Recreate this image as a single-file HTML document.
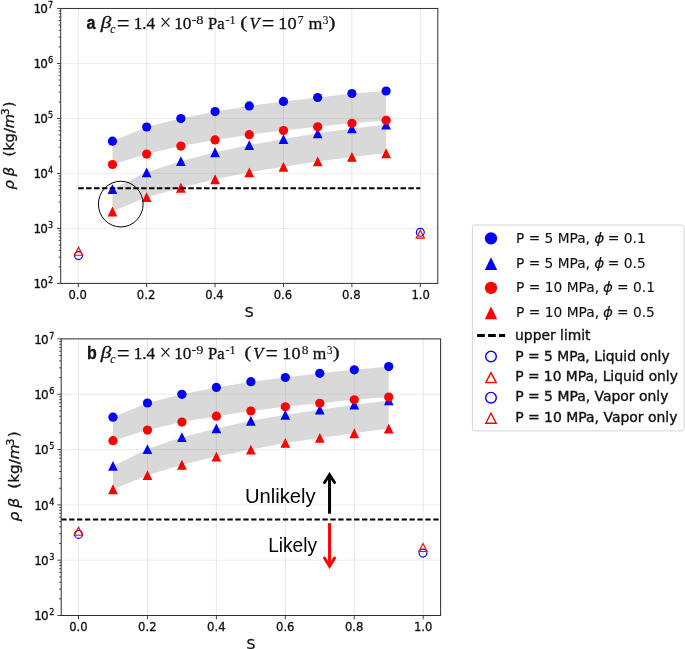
<!DOCTYPE html>
<html lang="en"><head><meta charset="utf-8"><title>Figure: rho beta vs S</title>
<style>html,body{margin:0;padding:0;background:#fff;overflow:hidden}svg{display:block;will-change:transform;mix-blend-mode:multiply}text{white-space:pre}</style>
</head><body>
<svg width="685" height="649" viewBox="0 0 685 649">
<rect width="685" height="649" fill="#fff"/>
<path d="M78.25 8.45V283.4M146.66 8.45V283.4M215.07 8.45V283.4M283.48 8.45V283.4M351.89 8.45V283.4M420.3 8.45V283.4" stroke="#dfdfdf" stroke-width="0.75" fill="none"/>
<path d="M60.7 228.41H437.8M60.7 173.42H437.8M60.7 118.43H437.8M60.7 63.44H437.8" stroke="#e7e7e7" stroke-width="0.75" fill="none"/>
<path d="M112.46 141.2L146.66 127L180.87 118.6L215.07 111.6L249.28 105.9L283.48 101.4L317.69 97.5L351.89 93.5L386.1 91L386.1 120.3L351.89 123.3L317.69 126.8L283.48 130.5L249.28 134.7L215.07 139.9L180.87 146.1L146.66 154.1L112.46 164.5ZM112.46 189.05L146.66 172.35L180.87 161.15L215.07 152.25L249.28 145.05L283.48 139.05L317.69 133.35L351.89 128.45L386.1 124.65L386.1 153.25L351.89 156.95L317.69 161.45L283.48 166.85L249.28 172.35L215.07 179.25L180.87 187.75L146.66 197.15L112.46 211.5Z" fill="#808080" fill-opacity="0.3"/>
<g fill="#0000ff"><circle cx="112.46" cy="141.2" r="4.62"/><circle cx="146.66" cy="127" r="4.62"/><circle cx="180.87" cy="118.6" r="4.62"/><circle cx="215.07" cy="111.6" r="4.62"/><circle cx="249.28" cy="105.9" r="4.62"/><circle cx="283.48" cy="101.4" r="4.62"/><circle cx="317.69" cy="97.5" r="4.62"/><circle cx="351.89" cy="93.5" r="4.62"/><circle cx="386.1" cy="91" r="4.62"/></g>
<path fill="#0000ff" d="M112.46 184.15L107.61 193.95L117.31 193.95ZM146.66 167.45L141.81 177.25L151.51 177.25ZM180.87 156.25L176.02 166.05L185.72 166.05ZM215.07 147.35L210.22 157.15L219.92 157.15ZM249.28 140.15L244.43 149.95L254.12 149.95ZM283.48 134.15L278.63 143.95L288.33 143.95ZM317.69 128.45L312.83 138.25L322.54 138.25ZM351.89 123.55L347.04 133.35L356.74 133.35ZM386.1 119.75L381.25 129.55L390.95 129.55Z"/>
<g fill="#ff0000"><circle cx="112.46" cy="164.5" r="4.62"/><circle cx="146.66" cy="154.1" r="4.62"/><circle cx="180.87" cy="146.1" r="4.62"/><circle cx="215.07" cy="139.9" r="4.62"/><circle cx="249.28" cy="134.7" r="4.62"/><circle cx="283.48" cy="130.5" r="4.62"/><circle cx="317.69" cy="126.8" r="4.62"/><circle cx="351.89" cy="123.3" r="4.62"/><circle cx="386.1" cy="120.3" r="4.62"/></g>
<path fill="#ff0000" d="M112.46 206.6L107.61 216.4L117.31 216.4ZM146.66 192.25L141.81 202.05L151.51 202.05ZM180.87 182.85L176.02 192.65L185.72 192.65ZM215.07 174.35L210.22 184.15L219.92 184.15ZM249.28 167.45L244.43 177.25L254.12 177.25ZM283.48 161.95L278.63 171.75L288.33 171.75ZM317.69 156.55L312.83 166.35L322.54 166.35ZM351.89 152.05L347.04 161.85L356.74 161.85ZM386.1 148.35L381.25 158.15L390.95 158.15Z"/>
<path d="M78.25 188.14H420.3" stroke="#000" stroke-width="2.0" stroke-dasharray="5.5 2.36" fill="none"/>
<circle cx="78.5" cy="255.6" r="3.95" fill="none" stroke="#0000ff" stroke-width="1.15"/>
<path d="M78.5 247.35L74.4 255.25L82.6 255.25Z" fill="none" stroke="#ff0000" stroke-width="1.15" stroke-linejoin="miter"/>
<circle cx="420.3" cy="232.3" r="3.95" fill="none" stroke="#0000ff" stroke-width="1.15"/>
<path d="M420.3 230.25L416.2 238.15L424.4 238.15Z" fill="none" stroke="#ff0000" stroke-width="1.15" stroke-linejoin="miter"/>
<path d="M56.9 283.4H60.7M56.9 228.41H60.7M56.9 173.42H60.7M56.9 118.43H60.7M56.9 63.44H60.7M56.9 8.45H60.7M78.25 283.4V287.2M146.66 283.4V287.2M215.07 283.4V287.2M283.48 283.4V287.2M351.89 283.4V287.2M420.3 283.4V287.2" stroke="#2e2e2e" stroke-width="0.9" fill="none"/>
<path d="M58.65 266.85H60.7M58.65 257.16H60.7M58.65 250.29H60.7M58.65 244.96H60.7M58.65 240.61H60.7M58.65 236.93H60.7M58.65 233.74H60.7M58.65 230.93H60.7M58.65 211.86H60.7M58.65 202.17H60.7M58.65 195.3H60.7M58.65 189.97H60.7M58.65 185.62H60.7M58.65 181.94H60.7M58.65 178.75H60.7M58.65 175.94H60.7M58.65 156.87H60.7M58.65 147.18H60.7M58.65 140.31H60.7M58.65 134.98H60.7M58.65 130.63H60.7M58.65 126.95H60.7M58.65 123.76H60.7M58.65 120.95H60.7M58.65 101.88H60.7M58.65 92.19H60.7M58.65 85.32H60.7M58.65 79.99H60.7M58.65 75.64H60.7M58.65 71.96H60.7M58.65 68.77H60.7M58.65 65.96H60.7M58.65 46.89H60.7M58.65 37.2H60.7M58.65 30.33H60.7M58.65 25H60.7M58.65 20.65H60.7M58.65 16.97H60.7M58.65 13.78H60.7M58.65 10.97H60.7" stroke="#1c1c1c" stroke-width="0.8" fill="none"/>
<rect x="60.7" y="8.45" width="377.1" height="274.95" fill="none" stroke="#2e2e2e" stroke-width="1"/>
<g font-family='"DejaVu Sans", "Liberation Sans", sans-serif' font-size="12" fill="#111" stroke="#111" stroke-width="0.3"><text transform="translate(33.45 288.25) scale(1 1.045)">1<tspan dx="-0.8">0</tspan><tspan font-size="8.1" dy="-4.75" dx="0.2">2</tspan></text><text transform="translate(33.45 233.26) scale(1 1.045)">1<tspan dx="-0.8">0</tspan><tspan font-size="8.1" dy="-4.75" dx="0.2">3</tspan></text><text transform="translate(33.45 178.27) scale(1 1.045)">1<tspan dx="-0.8">0</tspan><tspan font-size="8.1" dy="-4.75" dx="0.2">4</tspan></text><text transform="translate(33.45 123.28) scale(1 1.045)">1<tspan dx="-0.8">0</tspan><tspan font-size="8.1" dy="-4.75" dx="0.2">5</tspan></text><text transform="translate(33.45 68.29) scale(1 1.045)">1<tspan dx="-0.8">0</tspan><tspan font-size="8.1" dy="-4.75" dx="0.2">6</tspan></text><text transform="translate(33.45 13.3) scale(1 1.045)">1<tspan dx="-0.8">0</tspan><tspan font-size="8.1" dy="-4.75" dx="0.2">7</tspan></text><text transform="translate(77.65 299.2) scale(0.968 1)" text-anchor="middle">0.0</text><text transform="translate(146.06 299.2) scale(0.968 1)" text-anchor="middle">0.2</text><text transform="translate(214.47 299.2) scale(0.968 1)" text-anchor="middle">0.4</text><text transform="translate(282.88 299.2) scale(0.968 1)" text-anchor="middle">0.6</text><text transform="translate(351.29 299.2) scale(0.968 1)" text-anchor="middle">0.8</text><text transform="translate(420.6 299.2) scale(0.968 1)" text-anchor="middle">1.0</text></g>
<ellipse cx="120.75" cy="204.1" rx="22.35" ry="22.85" fill="none" stroke="#000" stroke-width="0.98"/>
<path d="M78.5 338.9V615.5M147.44 338.9V615.5M216.38 338.9V615.5M285.32 338.9V615.5M354.26 338.9V615.5M423.2 338.9V615.5" stroke="#dfdfdf" stroke-width="0.75" fill="none"/>
<path d="M61.2 560.18H440.6M61.2 504.86H440.6M61.2 449.54H440.6M61.2 394.22H440.6" stroke="#e7e7e7" stroke-width="0.75" fill="none"/>
<path d="M112.97 417.2L147.44 403L181.91 394.3L216.38 387.4L250.85 381.7L285.32 377.5L319.79 373.3L354.26 369.8L388.73 366.6L388.73 397.1L354.26 399.8L319.79 403.3L285.32 406.8L250.85 411L216.38 416.2L181.91 422.1L147.44 430.1L112.97 440.7ZM112.97 465.95L147.44 449.05L181.91 437.15L216.38 428.45L250.85 420.75L285.32 414.85L319.79 409.65L354.26 404.65L388.73 400.45L388.73 428.55L354.26 433.25L319.79 437.95L285.32 442.95L250.85 449.55L216.38 456.55L181.91 464.75L147.44 475.15L112.97 489.25Z" fill="#808080" fill-opacity="0.3"/>
<g fill="#0000ff"><circle cx="112.97" cy="417.2" r="4.62"/><circle cx="147.44" cy="403" r="4.62"/><circle cx="181.91" cy="394.3" r="4.62"/><circle cx="216.38" cy="387.4" r="4.62"/><circle cx="250.85" cy="381.7" r="4.62"/><circle cx="285.32" cy="377.5" r="4.62"/><circle cx="319.79" cy="373.3" r="4.62"/><circle cx="354.26" cy="369.8" r="4.62"/><circle cx="388.73" cy="366.6" r="4.62"/></g>
<path fill="#0000ff" d="M112.97 461.05L108.12 470.85L117.82 470.85ZM147.44 444.15L142.59 453.95L152.29 453.95ZM181.91 432.25L177.06 442.05L186.76 442.05ZM216.38 423.55L211.53 433.35L221.23 433.35ZM250.85 415.85L246 425.65L255.7 425.65ZM285.32 409.95L280.47 419.75L290.17 419.75ZM319.79 404.75L314.94 414.55L324.64 414.55ZM354.26 399.75L349.41 409.55L359.11 409.55ZM388.73 395.55L383.88 405.35L393.58 405.35Z"/>
<g fill="#ff0000"><circle cx="112.97" cy="440.7" r="4.62"/><circle cx="147.44" cy="430.1" r="4.62"/><circle cx="181.91" cy="422.1" r="4.62"/><circle cx="216.38" cy="416.2" r="4.62"/><circle cx="250.85" cy="411" r="4.62"/><circle cx="285.32" cy="406.8" r="4.62"/><circle cx="319.79" cy="403.3" r="4.62"/><circle cx="354.26" cy="399.8" r="4.62"/><circle cx="388.73" cy="397.1" r="4.62"/></g>
<path fill="#ff0000" d="M112.97 484.35L108.12 494.15L117.82 494.15ZM147.44 470.25L142.59 480.05L152.29 480.05ZM181.91 459.85L177.06 469.65L186.76 469.65ZM216.38 451.65L211.53 461.45L221.23 461.45ZM250.85 444.65L246 454.45L255.7 454.45ZM285.32 438.05L280.47 447.85L290.17 447.85ZM319.79 433.05L314.94 442.85L324.64 442.85ZM354.26 428.35L349.41 438.15L359.11 438.15ZM388.73 423.65L383.88 433.45L393.58 433.45Z"/>
<path d="M61.2 519.51H440.6" stroke="#000" stroke-width="1.85" stroke-dasharray="5.33 2.586" fill="none"/>
<circle cx="78.5" cy="534.4" r="3.95" fill="none" stroke="#0000ff" stroke-width="1.15"/>
<path d="M78.5 527.3L74.4 535.2L82.6 535.2Z" fill="none" stroke="#ff0000" stroke-width="1.15" stroke-linejoin="miter"/>
<circle cx="423" cy="553.1" r="3.95" fill="none" stroke="#0000ff" stroke-width="1.15"/>
<path d="M423 543.6L418.9 551.5L427.1 551.5Z" fill="none" stroke="#ff0000" stroke-width="1.15" stroke-linejoin="miter"/>
<path d="M57.4 615.5H61.2M57.4 560.18H61.2M57.4 504.86H61.2M57.4 449.54H61.2M57.4 394.22H61.2M57.4 338.9H61.2M78.5 615.5V619.3M147.44 615.5V619.3M216.38 615.5V619.3M285.32 615.5V619.3M354.26 615.5V619.3M423.2 615.5V619.3" stroke="#2e2e2e" stroke-width="0.9" fill="none"/>
<path d="M59.15 598.85H61.2M59.15 589.11H61.2M59.15 582.19H61.2M59.15 576.83H61.2M59.15 572.45H61.2M59.15 568.75H61.2M59.15 565.54H61.2M59.15 562.71H61.2M59.15 543.53H61.2M59.15 533.79H61.2M59.15 526.87H61.2M59.15 521.51H61.2M59.15 517.13H61.2M59.15 513.43H61.2M59.15 510.22H61.2M59.15 507.39H61.2M59.15 488.21H61.2M59.15 478.47H61.2M59.15 471.55H61.2M59.15 466.19H61.2M59.15 461.81H61.2M59.15 458.11H61.2M59.15 454.9H61.2M59.15 452.07H61.2M59.15 432.89H61.2M59.15 423.15H61.2M59.15 416.23H61.2M59.15 410.87H61.2M59.15 406.49H61.2M59.15 402.79H61.2M59.15 399.58H61.2M59.15 396.75H61.2M59.15 377.57H61.2M59.15 367.83H61.2M59.15 360.91H61.2M59.15 355.55H61.2M59.15 351.17H61.2M59.15 347.47H61.2M59.15 344.26H61.2M59.15 341.43H61.2" stroke="#1c1c1c" stroke-width="0.8" fill="none"/>
<rect x="61.2" y="338.9" width="379.4" height="276.6" fill="none" stroke="#2e2e2e" stroke-width="1"/>
<g font-family='"DejaVu Sans", "Liberation Sans", sans-serif' font-size="12" fill="#111" stroke="#111" stroke-width="0.3"><text transform="translate(34.15 620.35) scale(1 1.045)">1<tspan dx="-0.8">0</tspan><tspan font-size="8.1" dy="-4.75" dx="0.6">2</tspan></text><text transform="translate(34.15 565.03) scale(1 1.045)">1<tspan dx="-0.8">0</tspan><tspan font-size="8.1" dy="-4.75" dx="0.6">3</tspan></text><text transform="translate(34.15 509.71) scale(1 1.045)">1<tspan dx="-0.8">0</tspan><tspan font-size="8.1" dy="-4.75" dx="0.6">4</tspan></text><text transform="translate(34.15 454.39) scale(1 1.045)">1<tspan dx="-0.8">0</tspan><tspan font-size="8.1" dy="-4.75" dx="0.6">5</tspan></text><text transform="translate(34.15 399.07) scale(1 1.045)">1<tspan dx="-0.8">0</tspan><tspan font-size="8.1" dy="-4.75" dx="0.6">6</tspan></text><text transform="translate(34.15 343.75) scale(1 1.045)">1<tspan dx="-0.8">0</tspan><tspan font-size="8.1" dy="-4.75" dx="0.6">7</tspan></text><text transform="translate(78.4 631.3) scale(0.968 1)" text-anchor="middle">0.0</text><text transform="translate(147.34 631.3) scale(0.968 1)" text-anchor="middle">0.2</text><text transform="translate(216.28 631.3) scale(0.968 1)" text-anchor="middle">0.4</text><text transform="translate(285.22 631.3) scale(0.968 1)" text-anchor="middle">0.6</text><text transform="translate(354.16 631.3) scale(0.968 1)" text-anchor="middle">0.8</text><text transform="translate(423.1 631.3) scale(0.968 1)" text-anchor="middle">1.0</text></g>
<g fill="#111" stroke="#111" stroke-width="0.3"><text transform="translate(86.51 28.75) scale(0.9220 1)" font-family='"Liberation Sans", "DejaVu Sans", sans-serif' font-size="17.6" font-weight="700">a</text><text transform="translate(100.82 28.45) scale(1.2299 1)" font-family='"Liberation Serif", "DejaVu Serif", serif' font-size="17.2" font-style="italic">β</text><text transform="translate(110.35 32.65) scale(1.0129 1)" font-family='"Liberation Serif", "DejaVu Serif", serif' font-size="11.6" font-style="italic" stroke-width="0.15">c</text><text transform="translate(116.85 31.1) scale(0.9991 1)" font-family='"Liberation Serif", "DejaVu Serif", serif' font-size="23" stroke-width="0.1">=</text><text transform="translate(133.65 28.75) scale(0.9825 1)" font-family='"Liberation Serif", "DejaVu Serif", serif' font-size="17.5">1.4</text><text transform="translate(159.5 29.65) scale(0.9444 1)" font-family='"Liberation Serif", "DejaVu Serif", serif' font-size="22.5" stroke-width="0.1">×</text><text transform="translate(174.15 28.75) scale(0.9852 1)" font-family='"Liberation Serif", "DejaVu Serif", serif' font-size="17.5">10</text><text transform="translate(191.52 24.15) scale(1.2000 1)" font-family='"Liberation Serif", "DejaVu Serif", serif' font-size="12.0" stroke-width="0.15">-8</text><text transform="translate(208.1 28.75) scale(0.9464 1)" font-family='"Liberation Serif", "DejaVu Serif", serif' font-size="17.5">Pa</text><text transform="translate(225.41 24.15) scale(1.0274 1)" font-family='"Liberation Serif", "DejaVu Serif", serif' font-size="12.0" stroke-width="0.15">-1</text><text transform="translate(240.35 28.35) scale(1.2157 1)" font-family='"Liberation Serif", "DejaVu Serif", serif' font-size="17.4">(</text><text transform="translate(249.38 28.75) scale(0.9351 1)" font-family='"Liberation Serif", "DejaVu Serif", serif' font-size="17.5" font-style="italic">V</text><text transform="translate(261.78 31.1) scale(0.9713 1)" font-family='"Liberation Serif", "DejaVu Serif", serif' font-size="23" stroke-width="0.1">=</text><text transform="translate(278.26 28.75) scale(1.0443 1)" font-family='"Liberation Serif", "DejaVu Serif", serif' font-size="17.5">10</text><text transform="translate(297.54 24.15) scale(1.0208 1)" font-family='"Liberation Serif", "DejaVu Serif", serif' font-size="12.0" stroke-width="0.15">7</text><text transform="translate(308.44 28.75) scale(1.0193 1)" font-family='"Liberation Serif", "DejaVu Serif", serif' font-size="17.5">m</text><text transform="translate(322.84 24.15) scale(0.9350 1)" font-family='"Liberation Serif", "DejaVu Serif", serif' font-size="12.0" stroke-width="0.15">3</text><text transform="translate(328.58 28.35) scale(1.1936 1)" font-family='"Liberation Serif", "DejaVu Serif", serif' font-size="17.4">)</text></g>
<g fill="#111" stroke="#111" stroke-width="0.3"><text transform="translate(86.88 358.75) scale(0.9091 1)" font-family='"Liberation Sans", "DejaVu Sans", sans-serif' font-size="17.6" font-weight="700">b</text><text transform="translate(100.82 358.45) scale(1.2299 1)" font-family='"Liberation Serif", "DejaVu Serif", serif' font-size="17.2" font-style="italic">β</text><text transform="translate(110.35 362.65) scale(1.0129 1)" font-family='"Liberation Serif", "DejaVu Serif", serif' font-size="11.6" font-style="italic" stroke-width="0.15">c</text><text transform="translate(116.85 361.1) scale(0.9991 1)" font-family='"Liberation Serif", "DejaVu Serif", serif' font-size="23" stroke-width="0.1">=</text><text transform="translate(133.65 358.75) scale(0.9825 1)" font-family='"Liberation Serif", "DejaVu Serif", serif' font-size="17.5">1.4</text><text transform="translate(159.5 359.65) scale(0.9444 1)" font-family='"Liberation Serif", "DejaVu Serif", serif' font-size="22.5" stroke-width="0.1">×</text><text transform="translate(174.15 358.75) scale(0.9852 1)" font-family='"Liberation Serif", "DejaVu Serif", serif' font-size="17.5">10</text><text transform="translate(191.52 354.15) scale(1.2000 1)" font-family='"Liberation Serif", "DejaVu Serif", serif' font-size="12.0" stroke-width="0.15">-9</text><text transform="translate(208.1 358.75) scale(0.9464 1)" font-family='"Liberation Serif", "DejaVu Serif", serif' font-size="17.5">Pa</text><text transform="translate(225.41 354.15) scale(1.0274 1)" font-family='"Liberation Serif", "DejaVu Serif", serif' font-size="12.0" stroke-width="0.15">-1</text><text transform="translate(244.48 358.35) scale(1.1715 1)" font-family='"Liberation Serif", "DejaVu Serif", serif' font-size="17.4">(</text><text transform="translate(253.37 358.75) scale(0.9437 1)" font-family='"Liberation Serif", "DejaVu Serif", serif' font-size="17.5" font-style="italic">V</text><text transform="translate(265.39 361.1) scale(0.9621 1)" font-family='"Liberation Serif", "DejaVu Serif", serif' font-size="23" stroke-width="0.1">=</text><text transform="translate(282.37 358.75) scale(1.0378 1)" font-family='"Liberation Serif", "DejaVu Serif", serif' font-size="17.5">10</text><text transform="translate(301.67 354.15) scale(1.1111 1)" font-family='"Liberation Serif", "DejaVu Serif", serif' font-size="12.0" stroke-width="0.15">8</text><text transform="translate(312.75 358.75) scale(0.9961 1)" font-family='"Liberation Serif", "DejaVu Serif", serif' font-size="17.5">m</text><text transform="translate(327.05 354.15) scale(0.9146 1)" font-family='"Liberation Serif", "DejaVu Serif", serif' font-size="12.0" stroke-width="0.15">3</text><text transform="translate(332.68 358.35) scale(1.1936 1)" font-family='"Liberation Serif", "DejaVu Serif", serif' font-size="17.4">)</text></g>
<g font-family='"DejaVu Sans", "Liberation Sans", sans-serif' font-size="14" fill="#111" stroke="#111" stroke-width="0.3">
<text x="249.2" y="317.3" text-anchor="middle">S</text>
<text x="251" y="648.9" text-anchor="middle">S</text>
<g transform="translate(13.8 189.5) rotate(-90)">
<text transform="scale(1.045 1)" x="0" y="0"><tspan font-style="oblique">ρ</tspan><tspan x="12.6" font-style="oblique">β</tspan></text>
<text transform="translate(32.95 0) scale(1.045 1)" x="0" y="0">(kg/<tspan font-style="oblique">m</tspan><tspan font-size="9.8" dy="-5.2" dx="-1">3</tspan><tspan dy="5.2" dx="1.2">)</tspan></text>
</g>
<g transform="translate(19.4 521.6) rotate(-90)">
<text transform="scale(1.1 1)" x="0" y="0"><tspan font-style="oblique">ρ</tspan><tspan x="12.6" font-style="oblique">β</tspan></text>
<text transform="translate(32.85 0) scale(1.089 1)" x="0" y="0">(kg/<tspan font-style="oblique">m</tspan><tspan font-size="9.8" dy="-5.2" dx="-1">3</tspan><tspan dy="5.2" dx="1.2">)</tspan></text>
</g>
</g>
<g fill="none" stroke-linejoin="miter" stroke-miterlimit="10">
<path d="M329.55 513.7V475.5" stroke="#000" stroke-width="3"/>
<path d="M324.55 482.5L329.55 474.66L334.55 482.5" stroke="#000" stroke-width="2.9" stroke-linecap="round"/>
<path d="M329.55 523.1V565.5" stroke="#ff0000" stroke-width="3"/>
<path d="M324.5 557.95L329.55 566.3L334.6 557.95" stroke="#ff0000" stroke-width="2.9" stroke-linecap="round"/>
</g>
<g font-family='"Liberation Sans", "DejaVu Sans", sans-serif' font-size="19.6" fill="#000">
<text x="245" y="502.6" textLength="70.6" lengthAdjust="spacingAndGlyphs">Unlikely</text>
<text x="268.2" y="552.4" textLength="48.8" lengthAdjust="spacingAndGlyphs">Likely</text>
</g>
<rect x="472.4" y="225.0" width="211.7" height="205.9" rx="2.6" ry="2.6" fill="#fff" stroke="#d2d2d2" stroke-width="0.95"/>
<circle cx="491.0" cy="238.35" r="6.15" fill="#0000ff"/>
<path d="M491 257.15L484.8 270.05L497.2 270.05Z" fill="#0000ff"/>
<circle cx="491.0" cy="287.9" r="6.15" fill="#ff0000"/>
<path d="M491 306.45L484.8 319.35L497.2 319.35Z" fill="#ff0000"/>
<path d="M477.15 335.5H505.1" stroke="#000" stroke-width="2.8" stroke-dasharray="7.7 3.25" fill="none"/>
<circle cx="491.0" cy="356.5" r="5.3" fill="none" stroke="#0000ff" stroke-width="1.4"/>
<path d="M491 372.6L485.8 382.6L496.2 382.6Z" fill="none" stroke="#ff0000" stroke-width="1.4"/>
<circle cx="491.0" cy="397.7" r="5.3" fill="none" stroke="#0000ff" stroke-width="1.4"/>
<path d="M491 413.3L485.8 423.3L496.2 423.3Z" fill="none" stroke="#ff0000" stroke-width="1.4"/>
<g fill="#111">
<text transform="translate(516.03 242.85) scale(1.0329 1)" font-family='"DejaVu Sans", "Liberation Sans", sans-serif' font-size="13.3" stroke="#111" stroke-width="0.12">P = 5 MPa,</text>
<text transform="translate(594.23 242.85) scale(1.1547 1)" font-family='"DejaVu Sans", "Liberation Sans", sans-serif' font-size="13.3" font-style="oblique" stroke="#111" stroke-width="0.12">ϕ</text>
<text transform="translate(607.78 242.85) scale(1.0420 1)" font-family='"DejaVu Sans", "Liberation Sans", sans-serif' font-size="13.3" stroke="#111" stroke-width="0.12">= 0.1</text>
<text transform="translate(516.03 267.65) scale(1.0329 1)" font-family='"DejaVu Sans", "Liberation Sans", sans-serif' font-size="13.3" stroke="#111" stroke-width="0.12">P = 5 MPa,</text>
<text transform="translate(594.23 267.65) scale(1.1547 1)" font-family='"DejaVu Sans", "Liberation Sans", sans-serif' font-size="13.3" font-style="oblique" stroke="#111" stroke-width="0.12">ϕ</text>
<text transform="translate(607.78 267.65) scale(1.0379 1)" font-family='"DejaVu Sans", "Liberation Sans", sans-serif' font-size="13.3" stroke="#111" stroke-width="0.12">= 0.5</text>
<text transform="translate(516.02 292.15) scale(1.0387 1)" font-family='"DejaVu Sans", "Liberation Sans", sans-serif' font-size="13.3" stroke="#111" stroke-width="0.12">P = 10 MPa,</text>
<text transform="translate(603.05 292.15) scale(1.1278 1)" font-family='"DejaVu Sans", "Liberation Sans", sans-serif' font-size="13.3" font-style="oblique" stroke="#111" stroke-width="0.12">ϕ</text>
<text transform="translate(617.08 292.15) scale(1.0361 1)" font-family='"DejaVu Sans", "Liberation Sans", sans-serif' font-size="13.3" stroke="#111" stroke-width="0.12">= 0.1</text>
<text transform="translate(516.02 317.05) scale(1.0387 1)" font-family='"DejaVu Sans", "Liberation Sans", sans-serif' font-size="13.3" stroke="#111" stroke-width="0.12">P = 10 MPa,</text>
<text transform="translate(603.05 317.05) scale(1.1278 1)" font-family='"DejaVu Sans", "Liberation Sans", sans-serif' font-size="13.3" font-style="oblique" stroke="#111" stroke-width="0.12">ϕ</text>
<text transform="translate(617.09 317.05) scale(1.0320 1)" font-family='"DejaVu Sans", "Liberation Sans", sans-serif' font-size="13.3" stroke="#111" stroke-width="0.12">= 0.5</text>
<text transform="translate(515.05 340.4) scale(1.0425 1)" font-family='"DejaVu Sans", "Liberation Sans", sans-serif' font-size="13.3" stroke="#111" stroke-width="0.36">upper limit</text>
<text transform="translate(515.21 360.8) scale(1.0419 1)" font-family='"DejaVu Sans", "Liberation Sans", sans-serif' font-size="13.3" stroke="#111" stroke-width="0.36">P = 5 MPa, Liquid only</text>
<text transform="translate(515.22 380.8) scale(1.0378 1)" font-family='"DejaVu Sans", "Liberation Sans", sans-serif' font-size="13.3" stroke="#111" stroke-width="0.36">P = 10 MPa, Liquid only</text>
<text transform="translate(515.21 401.2) scale(1.0470 1)" font-family='"DejaVu Sans", "Liberation Sans", sans-serif' font-size="13.3" stroke="#111" stroke-width="0.36">P = 5 MPa, Vapor only</text>
<text transform="translate(515.21 422) scale(1.0478 1)" font-family='"DejaVu Sans", "Liberation Sans", sans-serif' font-size="13.3" stroke="#111" stroke-width="0.36">P = 10 MPa, Vapor only</text>
</g>
</svg>
</body></html>
